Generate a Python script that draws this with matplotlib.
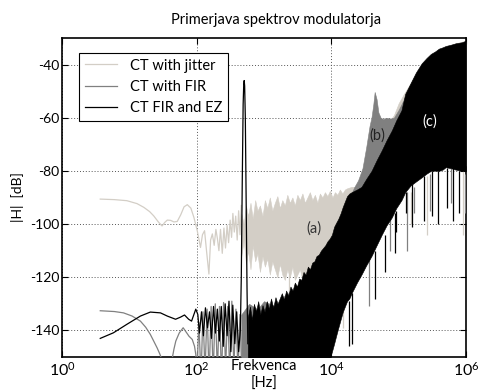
import numpy as np
import matplotlib
matplotlib.use("Agg")
import matplotlib.pyplot as plt

plt.rcParams['font.family'] = ['Lato', 'DejaVu Sans']
plt.rcParams['mathtext.fontset'] = 'custom'
plt.rcParams['mathtext.rm'] = 'Lato'
plt.rcParams['mathtext.it'] = 'Lato:italic'
plt.rcParams['axes.unicode_minus'] = False

# ---- CT with jitter (light gray) ----
jit_low_f = [3.7, 6, 9.2, 13, 16.4, 20, 23, 27, 30.6, 33.5, 36.6, 41, 46, 51.5, 58, 65, 72.6, 82, 91, 102, 114]
jit_low_db = [-90.6, -90.8, -91.2, -92.3, -93.7, -95.3, -96.9, -99.2, -100.7, -99.4, -98.5, -98.6, -99.2, -99,
              -96.5, -93.5, -92.7, -94, -97.5, -102.5, -108.8]
jit_osc_f = [114, 122, 131, 140, 152, 161, 171, 182, 193, 203, 214, 226, 240, 254, 268, 283, 298, 314, 330,
             345, 362, 380, 400, 420, 440, 460]
jit_osc_db = [-108.8, -104, -102.5, -110, -118.8, -106, -103.7, -108, -102, -105.4, -110, -102, -111, -101.5,
              -109, -100.5, -107, -98.5, -105, -96, -103, -97, -106, -95, -104, -93]
jit_band_f = [460, 500, 540, 580, 630, 680, 740, 800, 870, 950, 1030, 1120, 1220, 1330, 1450, 1580, 1720, 1870,
              2040, 2220, 2420, 2640, 2870, 3130, 3410, 3720, 4050, 4410, 4800, 5230, 5700, 6210, 6760, 7370,
              8030, 8740, 9520, 10400, 11300, 12300, 13400, 14600, 15900, 17300, 20000, 25000, 30000, 40000,
              50000, 60000, 70000, 85000, 100000, 120000, 150000, 200000, 300000, 400000, 500000, 700000, 1000000]
jit_band_top = [-96, -100, -93, -97, -92, -98, -91, -95, -93, -97, -91, -94, -90, -95, -92, -89.5, -94, -91,
                -93, -89, -92, -90, -93, -89, -91, -88.5, -92, -90, -88, -91, -89, -92, -88.5, -90, -88, -89.5,
                -87.5, -90, -88, -89, -87, -88.5, -87, -86.5, -86, -86, -84, -78, -70, -64, -62, -59, -54.5,
                -51, -47, -41.5, -37, -35, -33.5, -32, -31]
jit_band_bot = [-112, -106, -115, -110, -117, -108, -114, -111, -118, -112, -116, -113, -119, -114, -117, -120,
                -115, -119, -121, -117, -120, -116, -121, -119, -117, -121, -118, -120, -117, -119, -118, -120,
                -119, -121, -120, -122, -121, -124, -126, -128, -130, -130, -128, -126, -123, -118, -114, -109,
                -105, -101, -98.5, -95, -91, -87, -83.5, -80.5, -78, -78, -77.5, -77, -78]
jit_spk_f = [2390, 5200, 15000, 150000, 260000, 900000]
jit_spk_top = [-118, -118, -130, -88, -82, -80]
jit_spk_bot = [-129, -125, -139, -100, -104, -104]

# ---- CT with FIR (mid gray) ----
fir_low_f = [3.7, 6, 8.2, 11, 14.6, 17.5, 20.5, 23, 25.9, 28.5, 31, 34, 40, 43, 46, 49, 55, 63, 71, 77, 86, 93,
             97, 101]
fir_low_db = [-132.6, -132.9, -133.4, -134.6, -136.5, -138.8, -141.5, -144, -146.6, -149, -151.5, -160, -160,
              -151, -147, -144, -141, -139, -140.9, -142.2, -143.4, -146, -149, -155]
fir_osc_f = [101, 108, 116, 124, 133, 143, 153, 164, 176, 189, 203, 218, 234, 251, 269, 289, 310, 333, 357, 383,
             410, 440, 460]
fir_osc_db = [-155, -137, -158, -133, -156, -132, -158, -131, -157, -130, -156, -131, -158, -129.5, -155, -131,
              -157, -129, -154, -132, -156, -134, -150]
fir_band_f = [460, 600, 800, 1000, 1500, 2000, 3000, 5000, 7000, 10000, 14000, 18000, 22000, 25000, 29000,
              33000, 37000, 39500, 42000, 44000, 47000, 50000, 54000, 59000, 65000, 75000, 85000, 100000,
              120000, 150000, 200000, 300000, 400000, 500000, 700000, 1000000]
fir_band_top = [-134, -130, -132, -129, -131, -127, -124, -118, -112, -106, -98, -91, -86, -83.5, -79, -71,
                -63, -59.8, -55, -50.3, -53, -58, -60, -60.5, -60, -60.3, -60, -57, -53, -48, -42, -37.5, -35,
                -34, -32.5, -31.5]
fir_band_bot = [-160, -160, -160, -160, -160, -160, -160, -160, -160, -146, -132, -126, -122, -119, -116, -113.5,
                -111, -110, -108.5, -107.5, -106, -104.5, -102.5, -100.5, -98.5, -96, -93.5, -91, -87, -83.5,
                -80.5, -78, -78, -77.5, -77, -78]
fir_spk_f = [36000, 75000, 135000, 170000, 290000, 600000, 950000]
fir_spk_top = [-112, -97, -88, -86, -81, -79, -81]
fir_spk_bot = [-131, -110, -110, -96, -95, -92, -96]

# ---- CT FIR and EZ (black) ----
ez_low_f = [3.7, 5.8, 9.2, 14.6, 20.5, 29, 36.6, 48.6, 57.6, 66, 76, 84, 97, 104, 110, 118, 126, 135, 145,
            155, 166, 178, 190, 203, 217, 232, 248, 265, 283, 302, 322, 344, 368, 393, 420, 445]
ez_low_db = [-143, -140.9, -137.7, -134.6, -133.1, -133.4, -134.6, -135.8, -135, -134.2, -135.8, -136.5, -132,
             -134, -141, -133, -142, -131.5, -139, -133, -143, -131, -141, -132, -144, -131, -146, -130, -142,
             -129, -148, -130.5, -145, -133, -148, -140]
ez_tone_f = [445, 460, 475, 490, 500, 508, 516, 528, 545, 560, 575]
ez_tone_db = [-140, -120, -85, -55, -47.5, -46, -48, -60, -95, -125, -145]
ez_band_f = [575, 620, 660, 710, 760, 820, 880, 950, 1020, 1100, 1180, 1270, 1370, 1480, 1590, 1710, 1840, 1980,
             2130, 2300, 2470, 2660, 2870, 3090, 3330, 3580, 3860, 4160, 4480, 4820, 5200, 5600, 6030, 6500,
             7000, 7540, 8120, 8750, 9430, 10200, 11000, 11800, 12700, 13700, 14800, 15900, 17100, 18500,
             20000, 24000, 28000, 33000, 39500, 47000, 56000, 66000, 79000, 92000, 110000, 125000, 150000,
             180000, 220000, 260000, 300000, 350000, 395000, 450000, 500000, 600000, 700000, 870000, 1000000]
ez_band_top = [-135, -131, -136, -130, -133, -129, -134, -130.5, -133, -129, -132, -128, -131.5, -127.5, -130,
               -128, -126, -128.5, -125, -127, -123.5, -125, -122, -123.5, -120.5, -121, -118, -119, -116,
               -117, -114.5, -114, -112, -111.5, -110, -109, -108, -106.5, -105.5, -104, -101, -99.5, -98, -96,
               -93.5, -91.5, -89.5, -88.5, -88, -87, -86, -83, -80, -76, -72.3, -68.5, -64.8, -61, -57.2, -51,
               -47, -43, -39.5, -37.5, -36, -35, -34, -33.5, -33, -32.5, -32, -31.6, -31]
ez_band_bot = [-160, -160, -160, -160, -160, -160, -160, -160, -160, -160, -160, -160, -160, -160, -160, -160,
               -160, -160, -160, -160, -160, -160, -160, -160, -160, -160, -160, -160, -160, -160, -160, -160,
               -160, -160, -160, -160, -158, -155, -151, -148, -145, -142, -139, -136, -133, -131, -129, -128,
               -126, -122, -119, -115.5, -112, -108, -104, -100.5, -97.5, -94, -91, -88, -85.5, -84, -82.4,
               -81, -80, -79.9, -80, -79.5, -78.6, -79, -79.5, -80, -80]
ez_spk_f = [18000, 20000, 44000, 62000, 88000, 92000, 130000, 160000, 240000, 310000, 390000, 520000, 650000,
            800000]
ez_spk_top = [-129, -126, -110, -104, -96, -95, -88, -85, -82, -80, -80, -79, -79, -80]
ez_spk_bot = [-146, -145, -128, -118, -111, -103, -96, -101, -99, -97, -100, -94, -99, -96]

c_jit = '#d3cec6'
c_fir = '#808080'
c_ez = '#000000'

fig = plt.figure(figsize=(4.8, 3.9), dpi=100)
ax = fig.add_axes([62 / 480, 33 / 390, 404 / 480, 319 / 390])
ax.set_xscale('log')

series = [
    (c_jit, 2, jit_low_f + jit_osc_f, jit_low_db + jit_osc_db, jit_band_f, jit_band_top, jit_band_bot,
     jit_spk_f, jit_spk_top, jit_spk_bot, 'CT with jitter'),
    (c_fir, 3, fir_low_f + fir_osc_f, fir_low_db + fir_osc_db, fir_band_f, fir_band_top, fir_band_bot,
     fir_spk_f, fir_spk_top, fir_spk_bot, 'CT with FIR'),
    (c_ez, 4, ez_low_f + ez_tone_f, ez_low_db + ez_tone_db, ez_band_f, ez_band_top, ez_band_bot,
     ez_spk_f, ez_spk_top, ez_spk_bot, 'CT FIR and EZ'),
]
for col, z, lf, ldb, bf, btop, bbot, sf, stop, sbot, name in series:
    ax.plot(lf, ldb, color=col, lw=0.9, zorder=z, label=name)
    ax.fill_between(bf, bbot, btop, color=col, lw=0.4, edgecolor=col, zorder=z)
    ax.vlines(sf, sbot, stop, colors=col, lw=0.9, zorder=z)

ax.set_xlim(1, 1e6)
ax.set_ylim(-150, -30)
ax.set_xticks([1, 1e2, 1e4, 1e6])
ax.xaxis.set_minor_locator(matplotlib.ticker.NullLocator())
ax.set_yticks([-140, -120, -100, -80, -60, -40])
ax.grid(True, which='major', linestyle=(0, (1, 2)), color='#555555', lw=0.7)
ax.set_axisbelow(True)
ax.tick_params(direction='in', top=True, right=True, length=4, width=0.8)
ax.tick_params(axis='x', labelsize=11.5, pad=3)
ax.tick_params(axis='y', labelsize=10, pad=2)
for s in ax.spines.values():
    s.set_linewidth(1.2)

ax.set_title('Primerjava spektrov modulatorja', fontsize=10.5, pad=10, x=0.53)
ax.set_ylabel('|H|  [dB]', fontsize=10, labelpad=4)
ax.set_xlabel('Frekvenca\n[Hz]', fontsize=10.5, linespacing=1.35)
ax.xaxis.set_label_coords(0.5, -0.005)

ax.text(5580, -101.5, '(a)', fontsize=10.5, color='#333333', ha='center', va='center', zorder=6)
ax.text(48600, -66.7, '(b)', fontsize=10.5, color='#222222', ha='center', va='center', zorder=6)
ax.text(290000, -61.5, '(c)', fontsize=10.5, color='white', ha='center', va='center', zorder=6)

leg = ax.legend(loc='upper left', bbox_to_anchor=(0.042, 0.954), borderaxespad=0, fontsize=10.5,
                fancybox=False, framealpha=1, edgecolor='black', handlelength=2.2, handletextpad=0.9,
                labelspacing=0.5)
leg.get_frame().set_linewidth(0.8)
leg.set_zorder(10)

fig.savefig('out.png', dpi=100)
